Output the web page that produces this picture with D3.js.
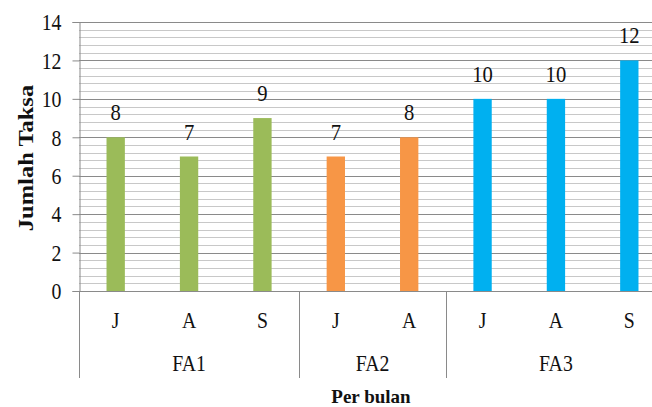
<!DOCTYPE html>
<html>
<head>
<meta charset="utf-8">
<script src="https://cdn.jsdelivr.net/npm/d3@7"></script>
</head>
<body style="margin:0;padding:0;background:#fff">
<svg id="chart" width="652" height="407" style="display:block" font-family="Liberation Serif"></svg>
<script>
// Taxa counts per month, grouped by station
const groups = ["FA1", "FA2", "FA3"];
const months = [["J", "A", "S"], ["J", "A"], ["J", "A", "S"]];
const values = [[8, 7, 9], [7, 8], [10, 10, 12]];
const groupColors = ["#9BBB59", "#F79646", "#00B0F0"];
const yTicks = [0, 2, 4, 6, 8, 10, 12, 14];

const FONT = "Liberation Serif";
const SX = 0.86;          // narrow glyph proportions
const INK = "#111";

// flatten into one list of bars
const bars = [];
groups.forEach((g, gi) => {
  months[gi].forEach((m, mi) => {
    bars.push({ key: g + "-" + m, group: g, gi, month: m, value: values[gi][mi] });
  });
});

const svg = d3.select("#chart");
const margin = { left: 79, top: 22, bottom: 116 };
const plotW = 587;
const plotH = 407 - margin.top - margin.bottom;

const x = d3.scaleBand().domain(bars.map(d => d.key)).range([margin.left, margin.left + plotW]).paddingInner(0.75).paddingOuter(0.375);
const y = d3.scaleLinear().domain([0, 14]).range([margin.top + plotH, margin.top]);

// text placed at (px, py), narrowed horizontally
function label(g, px, py, size) {
  return g.attr("x", 0).attr("y", 0)
    .attr("transform", (d, i) => `translate(${px(d, i)},${py(d, i)}) scale(${SX},1)`)
    .attr("font-family", FONT).attr("font-size", size).attr("fill", INK);
}

// minor gridlines every 0.4
const minor = d3.range(0, 14.0001, 0.4).filter(v => Math.abs(v / 2 - Math.round(v / 2)) > 1e-6);
svg.append("g").selectAll("line").data(minor).join("line")
  .attr("x1", margin.left).attr("x2", margin.left + plotW)
  .attr("y1", d => Math.round(y(d)) + 0.5).attr("y2", d => Math.round(y(d)) + 0.5)
  .attr("stroke", "#c8c8c8").attr("stroke-width", 1);

// major gridlines
svg.append("g").selectAll("line").data(yTicks.slice(1)).join("line")
  .attr("x1", margin.left).attr("x2", margin.left + plotW)
  .attr("y1", d => Math.round(y(d)) + 0.5).attr("y2", d => Math.round(y(d)) + 0.5)
  .attr("stroke", "#8a8a8a").attr("stroke-width", 1);

// bars
svg.append("g").selectAll("rect").data(bars).join("rect")
  .attr("x", d => x(d.key)).attr("width", x.bandwidth())
  .attr("y", d => y(d.value)).attr("height", d => y(0) - y(d.value))
  .attr("fill", d => groupColors[d.gi]);

// value labels
label(svg.append("g").selectAll("text").data(bars).join("text"),
  d => x(d.key) + x.bandwidth() / 2, d => y(d.value) - 17, 24)
  .attr("text-anchor", "middle")
  .text(d => d.value);

// y axis
const yAxis = d3.axisLeft(y).tickValues(yTicks).tickSize(7).tickPadding(11);
const yg = svg.append("g").attr("transform", `translate(${margin.left + 0.5},0)`).call(yAxis);
yg.attr("font-family", FONT);
yg.select(".domain").attr("stroke", "#8a8a8a");
yg.selectAll(".tick line").attr("stroke", "#8a8a8a");
yg.selectAll(".tick text")
  .attr("x", 0).attr("dy", "0.34em")
  .attr("transform", `translate(-18,0) scale(${SX},1)`)
  .attr("font-size", 23).attr("fill", INK).attr("font-family", FONT);

// x axis baseline
svg.append("line")
  .attr("x1", margin.left).attr("x2", margin.left + plotW)
  .attr("y1", Math.round(y(0)) + 0.5).attr("y2", Math.round(y(0)) + 0.5)
  .attr("stroke", "#8a8a8a");

// month labels
label(svg.append("g").selectAll("text").data(bars).join("text"),
  d => x(d.key) + x.bandwidth() / 2, () => 328, 23)
  .attr("text-anchor", "middle")
  .text(d => d.month);

// group separators and labels
const step = x.step();
const groupInfo = [];
let idx = 0;
groups.forEach((g, gi) => {
  const start = margin.left + idx * step;
  idx += months[gi].length;
  const end = margin.left + idx * step;
  groupInfo.push({ g, start, end });
});
const sepBottom = 378;
svg.append("g").selectAll("line").data(groupInfo).join("line")
  .attr("x1", d => Math.round(d.start) + 0.5).attr("x2", d => Math.round(d.start) + 0.5)
  .attr("y1", y(0)).attr("y2", sepBottom)
  .attr("stroke", "#8a8a8a");
label(svg.append("g").selectAll("text").data(groupInfo).join("text"),
  d => (d.start + d.end) / 2, () => 371, 23)
  .attr("text-anchor", "middle")
  .text(d => d.g);

// axis titles
svg.append("text")
  .attr("x", 371).attr("y", 403)
  .attr("text-anchor", "middle")
  .attr("font-family", FONT)
  .attr("font-size", 19).attr("font-weight", "bold").attr("fill", INK)
  .text("Per bulan");

svg.append("text")
  .attr("x", 0).attr("y", 0)
  .attr("transform", `translate(33,158) rotate(-90) scale(1,${SX})`)
  .attr("text-anchor", "middle")
  .attr("font-family", FONT)
  .attr("font-size", 24.5).attr("font-weight", "bold").attr("fill", INK)
  .text("Jumlah Taksa");
</script>
</body>
</html>
